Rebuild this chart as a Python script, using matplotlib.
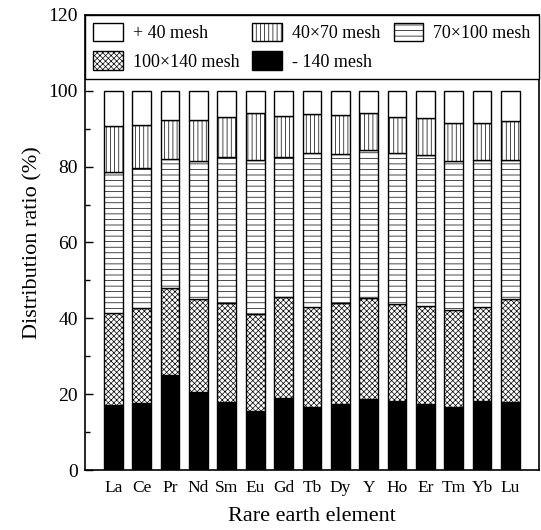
import matplotlib
matplotlib.use("Agg")
import matplotlib.pyplot as plt
import numpy as np

plt.rcParams['font.family'] = ['Liberation Serif', 'DejaVu Serif']
plt.rcParams['hatch.linewidth'] = 0.5

elements = ["La", "Ce", "Pr", "Nd", "Sm", "Eu", "Gd", "Tb", "Dy", "Y", "Ho", "Er", "Tm", "Yb", "Lu"]
minus140 = [17.2, 17.6, 25.0, 20.7, 17.9, 15.5, 18.9, 16.7, 17.4, 18.8, 18.3, 17.4, 16.7, 18.1, 17.9]
m100_140 = [24.3, 25.0, 23.1, 24.4, 26.2, 25.6, 26.6, 26.3, 26.7, 26.6, 25.6, 25.9, 25.6, 24.9, 27.2]
m70_100 = [37.0, 37.0, 33.8, 36.4, 38.3, 40.7, 37.1, 40.5, 39.2, 38.9, 39.6, 39.8, 39.2, 38.7, 36.6]
m40_70 = [12.2, 11.4, 10.4, 10.8, 10.6, 12.3, 10.7, 10.3, 10.2, 9.8, 9.5, 9.7, 10.0, 9.8, 10.3]
plus40 = [9.3, 9.0, 7.7, 7.7, 7.0, 5.9, 6.7, 6.2, 6.5, 5.9, 7.0, 7.2, 8.5, 8.5, 8.0]

series = [
    ("- 140 mesh", minus140, "black", None),
    ("100\u00d7140 mesh", m100_140, "white", "xxxxxx"),
    ("70\u00d7100 mesh", m70_100, "white", "---"),
    ("40\u00d770 mesh", m40_70, "white", "||||"),
    ("+ 40 mesh", plus40, "white", None),
]

fig = plt.figure(figsize=(5.41, 5.30), dpi=100)
ax = fig.add_axes([0.157, 0.113, 0.839, 0.859])

x = np.arange(len(elements))
bottom = np.zeros(len(elements))
handles = {}
for label, vals, color, hatch in series:
    vals = np.array(vals)
    b = ax.bar(x, vals, 0.66, bottom=bottom, color=color, edgecolor="black",
               linewidth=1.0, hatch=hatch, label=label)
    handles[label] = b
    bottom += vals

ax.set_xlim(-1, 15)
ax.set_ylim(0, 120)
ax.set_xticks(x)
ax.set_xticklabels(elements, fontsize=12.5)
ax.set_yticks(np.arange(0, 121, 20))
ax.set_yticks(np.arange(10, 121, 20), minor=True)
ax.tick_params(axis='y', which='major', direction='in', length=6, width=1, labelsize=14, pad=5)
ax.tick_params(axis='y', which='minor', direction='in', length=3.5, width=1)
ax.tick_params(axis='x', length=0, pad=7)
for s in ax.spines.values():
    s.set_linewidth(1.2)

ax.set_ylabel("Distribution ratio (%)", fontsize=16, labelpad=4)
ax.set_xlabel("Rare earth element", fontsize=16, labelpad=8)

order = ["+ 40 mesh", "100\u00d7140 mesh", "40\u00d770 mesh", "- 140 mesh", "70\u00d7100 mesh"]
leg = ax.legend([handles[k] for k in order], order, ncol=3, loc='upper left',
                bbox_to_anchor=(0, 1.0, 1.0, 0), mode='expand', borderaxespad=0,
                fancybox=False, edgecolor='black', framealpha=1, fontsize=13,
                handlelength=1.65, handleheight=1.2, columnspacing=0.3,
                handletextpad=0.55, borderpad=0.45, labelspacing=0.5)
leg.get_frame().set_linewidth(1.0)

fig.savefig("out.png", dpi=100)
